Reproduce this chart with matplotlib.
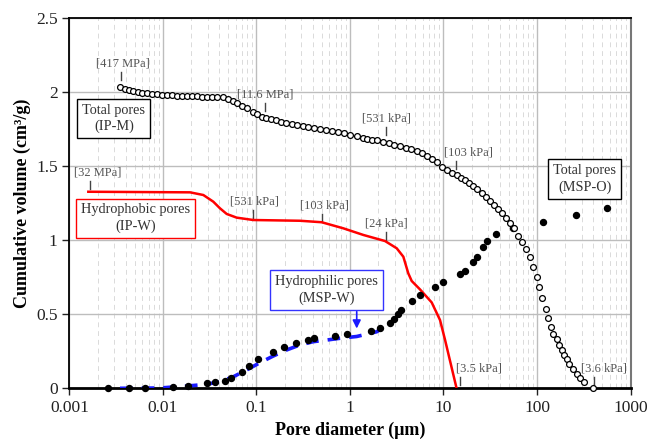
import numpy as np
import matplotlib
matplotlib.use("Agg")
import matplotlib.pyplot as plt
from matplotlib.ticker import LogLocator, NullFormatter

plt.rcParams['font.family'] = ['Liberation Serif', 'DejaVu Serif']

# Total pores (IP-M), open circles
ipm_d = [0.00347, 0.00393, 0.00433, 0.00481, 0.00536, 0.00601, 0.0067, 0.00757, 0.00857,
         0.00968, 0.01096, 0.0124, 0.0140, 0.0158, 0.0179, 0.0203, 0.0229, 0.0259, 0.0293,
         0.0332, 0.0375, 0.0442, 0.0499, 0.0556, 0.0614, 0.0695, 0.0785, 0.0925, 0.102,
         0.114, 0.126, 0.142, 0.160, 0.183, 0.207, 0.238, 0.273, 0.312, 0.358, 0.415,
         0.478, 0.553, 0.637, 0.738, 0.863, 1.0, 1.20, 1.37, 1.53, 1.73, 1.96, 2.27,
         2.63, 2.98, 3.43, 3.94, 4.49, 5.16, 5.85, 6.61, 7.48, 8.46, 9.57, 10.8, 12.2,
         13.8, 15.3, 17.0, 18.9, 20.8, 23.0, 25.6, 28.3, 31.4, 34.7, 38.5, 42.5, 46.6,
         51.4, 56.7, 63.1, 69.6, 76.3, 84.1, 91.3, 99.3, 106, 114, 124, 132, 140, 149,
         162, 172, 184, 194, 208, 221, 241, 266, 289, 321, 400]
ipm_v = [2.034, 2.02, 2.013, 2.007, 2.002, 1.997, 1.993, 1.989, 1.986,
         1.984, 1.982, 1.980, 1.978, 1.976, 1.975, 1.973, 1.972, 1.971, 1.970,
         1.969, 1.968, 1.966, 1.957, 1.943, 1.926, 1.907, 1.892, 1.869, 1.852,
         1.835, 1.829, 1.82, 1.81, 1.80, 1.795, 1.788, 1.781, 1.774, 1.768, 1.761,
         1.752, 1.745, 1.739, 1.732, 1.723, 1.711, 1.702, 1.693, 1.686, 1.68, 1.676, 1.666,
         1.657, 1.646, 1.635, 1.624, 1.615, 1.603, 1.588, 1.570, 1.549, 1.527, 1.497, 1.475, 1.457,
         1.441, 1.423, 1.407, 1.389, 1.369, 1.347, 1.322, 1.295, 1.265, 1.238, 1.211, 1.182, 1.149,
         1.115, 1.081, 1.031, 0.986, 0.941, 0.889, 0.818, 0.75, 0.682, 0.608, 0.536, 0.473, 0.412, 0.367,
         0.331, 0.293, 0.259, 0.225, 0.196, 0.164, 0.128, 0.097, 0.072, 0.045, 0.0]

# Total pores (MSP-O), filled dots
mspo_d = [0.00256, 0.00436, 0.00647, 0.0127, 0.0187, 0.0296, 0.0363, 0.0457, 0.0530, 0.0695,
          0.0831, 0.105, 0.149, 0.198, 0.265, 0.358, 0.415, 0.692, 0.923, 1.66, 2.09, 2.68,
          2.98, 3.29, 3.49, 4.57, 5.61, 8.11, 9.95, 15.0, 17.0, 20.8, 23.0, 26.3, 29.0, 36.2,
          54.9, 115, 259, 556]
mspo_v = [0, 0, 0, 0.009, 0.018, 0.034, 0.040, 0.051, 0.070, 0.108,
          0.153, 0.200, 0.243, 0.278, 0.306, 0.328, 0.340, 0.355, 0.366, 0.389, 0.405, 0.439,
          0.470, 0.504, 0.532, 0.592, 0.628, 0.686, 0.715, 0.770, 0.793, 0.855, 0.889, 0.957, 0.997, 1.043,
          1.085, 1.126, 1.169, 1.216]

# Hydrophilic pores (MSP-W), blue dashed
mspw_d = [0.00347, 0.00929, 0.0195, 0.0293, 0.0407, 0.0565, 0.0785, 0.109, 0.151,
          0.210, 0.292, 0.405, 0.563, 0.782, 1.18, 1.93, 2.68]
mspw_v = [0, 0.002, 0.017, 0.027, 0.045, 0.078, 0.124, 0.173, 0.218,
          0.259, 0.293, 0.315, 0.326, 0.338, 0.350, 0.382, 0.44]

# Hydrophobic pores (IP-W), red line
ipw_d = [0.00159, 0.0195, 0.0270, 0.0345, 0.0407, 0.048, 0.0614, 0.0925, 0.292, 0.498,
         0.848, 1.39, 2.37, 3.16, 3.72, 4.20, 4.57, 5.61, 7.48, 9.18, 10.4, 11.7, 13.8]
ipw_v = [1.328, 1.324, 1.306, 1.261, 1.216, 1.178, 1.153, 1.137, 1.132, 1.122,
         1.081, 1.036, 0.995, 0.946, 0.889, 0.777, 0.725, 0.668, 0.58, 0.461, 0.326, 0.19, 0.0]

# pressure labels: text, diameter of the tick, bottom of the tick
label_txt = ["[417 MPa]", "[11.6 MPa]", "[531 kPa]", "[103 kPa]", "[32 MPa]",
             "[531 kPa]", "[103 kPa]", "[24 kPa]", "[3.5 kPa]", "[3.6 kPa]"]
label_d = [0.00356, 0.123, 2.43, 13.6, 0.00166, 0.0925, 0.498, 2.43, 15.0, 410]
label_v = [2.083, 1.873, 1.712, 1.481, 1.345, 1.15, 1.126, 1.002, 0.022, 0.022]
label_dx = [0.02, 0, 0, 0.13, 0.086, 0.01, 0.03, 0, 0.198, 0.104]

fig = plt.figure(figsize=(6.47, 4.43), dpi=100)
ax = fig.add_axes([0.1074, 0.1235, 0.8671, 0.8352])
ax.set_xscale('log')
ax.set_xlim(0.001, 1000)
ax.set_ylim(0, 2.5)

ax.xaxis.set_minor_locator(LogLocator(base=10, subs=np.arange(2, 10)))
ax.xaxis.set_minor_formatter(NullFormatter())
ax.set_xticks([0.001, 0.01, 0.1, 1, 10, 100, 1000])
ax.set_xticklabels(['0.001', '0.01', '0.1', '1', '10', '100', '1000'])
ax.set_yticks([0, 0.5, 1, 1.5, 2, 2.5])
ax.set_yticklabels(['0', '0.5', '1', '1.5', '2', '2.5'])
ax.grid(True, which='major', color='#bdbdbd', lw=1.0)
ax.grid(True, which='minor', axis='x', color='#dadada', lw=0.7, ls=(0, (5, 4)))
ax.set_axisbelow(True)
ax.tick_params(which='major', direction='out', length=5, width=1, labelsize=12.5, colors='#222222')
ax.tick_params(which='minor', length=0)

for s in ['left', 'top']:
    ax.spines[s].set_color('black')
    ax.spines[s].set_linewidth(1.3)
ax.spines['bottom'].set_linewidth(2)
ax.spines['right'].set_color('#777777')
ax.spines['right'].set_linewidth(1.5)

ax.plot(ipw_d, ipw_v, color='#ff0000', lw=1.8, zorder=3)
ax.plot(mspw_d, mspw_v, color='#1a1aff', lw=2.6, ls=(0, (3.5, 2.5)), zorder=3)
ax.plot(mspo_d, mspo_v, 'o', color='black', ms=4.3, zorder=4, clip_on=False)
ax.plot(ipm_d, ipm_v, 'o', mfc='white', mec='black', ms=4.2, mew=0.9, zorder=5, clip_on=False)

for txt, d, v, dx in zip(label_txt, label_d, label_v, label_dx):
    ax.plot([d, d], [v, v + 0.055], color='#444444', lw=1)
    ax.text(d * 10 ** dx, v + 0.07, txt, ha='center', va='bottom', fontsize=9, color='#555555')

box_kw = dict(ha='center', va='center', fontsize=10.3, color='#333333', linespacing=1.3, zorder=6)
ax.text(0.00298, 1.822, "Total pores\n(IP-M)",
        bbox=dict(boxstyle='square,pad=0.35', fc='white', ec='black', lw=1), **box_kw)
ax.text(0.00506, 1.149, "Hydrophobic pores\n(IP-W)",
        bbox=dict(boxstyle='square,pad=0.35', fc='white', ec='#ff0000', lw=1), **box_kw)
ax.text(0.558, 0.666, "Hydrophilic pores\n(MSP-W)",
        bbox=dict(boxstyle='square,pad=0.35', fc='white', ec='#3333ff', lw=1), **box_kw)
ax.text(326, 1.415, "Total pores\n(MSP-O)",
        bbox=dict(boxstyle='square,pad=0.35', fc='white', ec='black', lw=1), **box_kw)
ax.annotate("", xy=(1.18, 0.385), xytext=(1.18, 0.537),
            arrowprops=dict(arrowstyle='-|>', color='#1a1aff', lw=1.2, mutation_scale=12))

ax.set_xlabel("Pore diameter (μm)", fontsize=13, fontweight='bold', labelpad=4)
ax.set_ylabel("Cumulative volume (cm³/g)", fontsize=13, fontweight='bold', labelpad=4)

fig.savefig("out.png", dpi=100)
